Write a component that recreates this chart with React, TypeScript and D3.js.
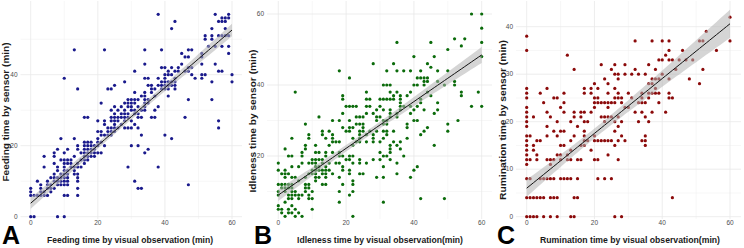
import * as d3 from "d3";

const xTicks = [0, 20, 40, 60];
const xMinor = [10, 30, 50];

// each row: [sensor value, visual observation values seen at that sensor value]
const feedingRows: [number, number[]][] = [
  [0, [0, 1, 8, 10]],
  [6, [0, 1, 2, 3, 4, 5, 10, 11, 14]],
  [7, [0, 3, 4, 6]],
  [8, [0, 3, 5, 6, 7, 14, 32, 33]],
  [9, [3, 5, 6, 8, 9, 10, 11, 47]],
  [10, [2, 5, 7, 8, 9, 10, 11, 14, 31]],
  [11, [6, 7, 8, 9, 10, 11, 14]],
  [12, [7, 9, 10, 11, 13, 14]],
  [13, [8, 10, 11, 13]],
  [14, [4, 8, 10, 12, 13, 14, 15, 29, 38]],
  [15, [7, 10, 11, 12, 14, 16]],
  [16, [9, 10, 11, 12, 15, 16, 17]],
  [17, [4, 7, 13, 16, 17, 18, 19]],
  [18, [7, 10, 15, 16, 17, 18, 19, 20, 21, 34]],
  [19, [8, 11, 14, 16, 17, 18, 19, 35]],
  [20, [14, 16, 17, 18, 19, 20, 22, 30, 32]],
  [21, [16, 17, 18, 20, 21]],
  [22, [9, 13, 20, 42]],
  [23, [21, 22, 23, 24, 33, 40]],
  [24, [20, 21, 23, 24, 25]],
  [25, [23, 24, 25, 26, 28, 29, 30, 32, 56]],
  [26, [22, 25, 27, 31]],
  [27, [20, 22, 24, 25, 26, 28, 30, 56]],
  [28, [16, 17, 24, 25, 26, 27, 28, 29, 32, 33, 36, 37, 46]],
  [29, [25, 27, 28, 29, 31, 32]],
  [30, [24, 26, 28, 30, 31, 33, 34, 37]],
  [31, [25, 27, 29, 30, 32, 34, 38]],
  [32, [21, 28, 29, 30, 31, 34, 35]],
  [33, [29, 30, 31, 32, 34, 35, 47, 54]],
  [34, [33, 34, 37, 41]],
  [35, [31, 34, 36]],
  [36, [14, 23, 24, 36, 37, 39, 40, 41, 43]],
  [37, [25, 35, 36, 38, 39, 40, 41, 42, 43]],
  [38, [28, 39, 40, 41, 42, 43, 54, 60]],
  [39, [10, 34, 35, 38, 40, 43, 49, 51]],
  [40, [40, 41, 42, 48, 51, 52, 60]],
  [41, [31, 41, 43, 44, 46, 47, 56, 57]],
  [42, [39, 40, 42, 44, 47, 48]],
  [43, [34, 45, 51, 55]],
  [45, [46, 47, 51]],
  [46, [45, 51, 59]],
  [47, [13, 22, 34, 39, 47, 48]],
  [48, [53, 55, 57, 59]],
  [50, [52, 54]],
  [51, [52, 54, 56, 57, 58, 59]],
  [53, [42, 54, 58]],
  [55, [43, 56, 57, 58]],
  [56, [57, 58, 59]],
  [57, [38, 55, 59]],
];

const idlenessRows: [number, number[]][] = [
  [3, [2, 5, 7, 22]],
  [4, [1, 3, 4, 6]],
  [5, [0, 1, 3, 5, 10]],
  [6, [0, 4]],
  [7, [2, 18, 31]],
  [8, [3, 4, 6, 9, 10, 42, 49]],
  [9, [0, 3, 4, 5, 6, 7, 9, 21]],
  [10, [0, 2, 4, 5, 8, 10, 18, 22]],
  [11, [1, 2, 3, 4, 8, 9]],
  [12, [0, 1, 2, 3, 4, 8, 9, 13, 14, 19, 22]],
  [13, [6, 11, 22]],
  [14, [2, 4, 5, 8, 11, 12, 14, 18, 29, 31, 39]],
  [15, [1, 2, 3, 9, 10, 11, 13, 14, 16, 21, 24, 25, 35]],
  [16, [0, 2, 10, 11, 12, 13, 14, 15, 19, 21, 40]],
  [17, [4, 6, 11, 12, 14, 19, 31, 41]],
  [18, [0, 7, 9, 10, 11, 13, 15, 17, 18, 22, 24, 26, 35]],
  [19, [10, 11, 12, 13, 20, 21, 24, 28, 30, 33]],
  [20, [3, 4, 7, 14, 18, 19, 21, 22, 31, 32, 37]],
  [21, [7, 11, 12, 14, 16, 18, 30, 33]],
  [22, [2, 8, 33, 36]],
  [23, [8, 11, 15, 22, 33, 35, 46]],
  [24, [16, 17, 18, 23, 24, 26, 28, 30, 34, 36]],
  [25, [4, 9, 14, 16, 22, 24, 28, 31, 38]],
  [26, [9, 13, 16, 24, 26, 28, 32, 42]],
  [27, [13, 15, 20, 21, 24, 25, 27, 29, 31, 32, 34, 43, 50]],
  [28, [19, 21, 22, 25, 38, 44]],
  [29, [8, 23, 24, 25, 31, 32, 38, 50]],
  [30, [16, 18, 21, 29, 31, 32, 40, 41, 53]],
  [31, [12, 23, 24, 25, 29, 30, 33, 35]],
  [32, [19, 26, 28, 33, 35, 39, 46]],
  [33, [29, 31, 33, 36, 40, 43, 47]],
  [34, [20, 21, 22, 23, 26, 27, 30, 36, 37, 39, 41, 57, 60]],
  [35, [36, 42, 47]],
  [36, [19, 26, 27, 30, 31, 32, 33, 34, 36, 42]],
  [37, [19, 34, 36, 38, 45, 54]],
  [38, [5, 26, 33, 35, 39, 44, 54, 59]],
  [40, [31, 32, 33, 40, 41, 43, 49, 52]],
  [41, [43, 44, 47, 52]],
  [42, [21, 41, 42, 43, 44]],
  [44, [18, 32, 35, 37, 39, 42, 47, 50]],
  [45, [45]],
  [46, [28, 34, 44]],
  [48, [40, 46, 60]],
  [50, [50]],
  [51, [54]],
  [52, [35, 45, 60]],
  [53, [52, 55]],
  [56, [60]],
  [60, [57, 60]],
];

const ruminationRows: [number, number[]][] = [
  [0, [0, 1, 2, 3, 5, 7, 9, 13, 14, 26, 28]],
  [4, [0, 1, 2, 3, 4, 5, 7, 8, 9, 14, 15, 43]],
  [8, [0, 1, 4, 5, 6, 7, 8, 10, 11, 12, 13, 15, 21, 23, 25]],
  [11, [0, 7]],
  [12, [0, 1, 3, 6, 7, 8, 10, 12, 13, 15, 16, 20, 21, 27]],
  [13, [0, 3, 9, 10, 12, 24]],
  [14, [0, 2, 13, 19]],
  [15, [0, 2, 10, 11, 16, 17, 26, 35]],
  [16, [0, 3, 4, 13, 17, 18, 20, 21, 22, 23, 24, 25, 27, 29, 34, 35]],
  [17, [0, 1, 6, 9, 14, 17, 20, 28, 35]],
  [18, [8, 10, 11, 17, 26]],
  [19, [0, 6, 15, 27]],
  [20, [0, 9, 13, 17, 18, 23, 26, 28, 33, 36]],
  [21, [0, 2, 7, 14, 16, 22, 23, 24, 25, 27, 35]],
  [22, [0, 6, 11, 14, 16, 17, 19, 32, 34, 37, 41]],
  [23, [0, 10, 20, 24, 29, 30]],
  [24, [5, 11, 20, 21, 22, 23, 24, 25, 26, 28, 33, 34, 35, 39]],
  [25, [0, 8, 9, 20, 21, 26, 27, 28, 31, 34, 36, 42, 43]],
  [26, [0, 4, 11, 17, 19, 24, 27, 30, 34, 36, 37, 38, 39, 42]],
  [27, [0, 6, 17, 19, 21, 26, 38]],
  [28, [20, 24, 36, 37, 51]],
  [29, [23, 27, 37, 38, 39, 42, 48]],
  [30, [26, 27, 29, 31, 33, 35, 40]],
  [31, [14, 25, 32, 38, 44, 52]],
  [32, [22, 26, 29, 36]],
  [33, [39, 40, 42, 43, 45, 47, 49]],
  [34, [12, 41]],
  [35, [0, 42, 46, 56]],
  [37, [32, 37, 40, 42, 51, 52, 60]],
  [38, [0]],
  [39, [53]],
  [42, [60]],
];

// fitted lines
const feedingFit = { intercept: 3.8, slope: 0.813 };
const idlenessFit = { intercept: 9.0, slope: 0.658 };
const ruminationFit = { intercept: 6.0, slope: 0.577 };

const toPoints = (rows: [number, number[]][]) =>
  rows.flatMap(([y, xs]) => xs.map((x) => ({ x, y })));

const FONT = "'Liberation Sans', Arial, sans-serif";

type PanelProps = {
  letter: string;
  color: string;
  rows: [number, number[]][];
  fit: { intercept: number; slope: number };
  yTicks: number[];
  yMinor: number[];
  xPx: [number, number];
  yDomain: [number, number];
  yPx: [number, number];
  box: { x0: number; x1: number; y0: number; y1: number };
  xTitle: string;
  yTitle: string;
  xTitlePos: { x: number; len: number };
  yTitlePos: { x: number; y: number; len: number };
  letterX: number;
};

const Panel = (p: PanelProps) => {
  const pts = toPoints(p.rows);
  const xScale = d3.scaleLinear().domain([0, 60]).range(p.xPx);
  const yScale = d3.scaleLinear().domain(p.yDomain).range(p.yPx);
  const { x0, x1, y0, y1 } = p.box;

  // confidence band of the mean around the fitted line
  const n = pts.length;
  const xbar = d3.mean(pts, (d) => d.x) as number;
  const sxx = d3.sum(pts, (d) => (d.x - xbar) ** 2);
  const sse = d3.sum(pts, (d) => (d.y - (p.fit.intercept + p.fit.slope * d.x)) ** 2);
  const s = Math.sqrt(sse / (n - 2));
  const xs = d3.range(0, 60.5, 1);
  const band = xs.map((x) => {
    const yh = p.fit.intercept + p.fit.slope * x;
    const se = 1.97 * s * Math.sqrt(1 / n + (x - xbar) ** 2 / sxx);
    return { x, lo: yh - se, hi: yh + se, y: yh };
  });
  const area = d3
    .area<{ x: number; lo: number; hi: number }>()
    .x((d) => xScale(d.x))
    .y0((d) => yScale(d.lo))
    .y1((d) => yScale(d.hi));
  const line = d3
    .line<{ x: number; y: number }>()
    .x((d) => xScale(d.x))
    .y((d) => yScale(d.y));

  const inY = (v: number) => yScale(v) >= y0 && yScale(v) <= y1;

  return (
    <g fontFamily={FONT}>
      {/* grid */}
      {xMinor.map((v) => (
        <line key={"xm" + v} x1={xScale(v)} x2={xScale(v)} y1={y0} y2={y1} stroke="#f2f2f2" strokeWidth={0.6} />
      ))}
      {p.yMinor.filter(inY).map((v) => (
        <line key={"ym" + v} x1={x0} x2={x1} y1={yScale(v)} y2={yScale(v)} stroke="#f2f2f2" strokeWidth={0.6} />
      ))}
      {xTicks.map((v) => (
        <line key={"xg" + v} x1={xScale(v)} x2={xScale(v)} y1={y0} y2={y1} stroke="#e8e8e8" strokeWidth={0.8} />
      ))}
      {p.yTicks.filter(inY).map((v) => (
        <line key={"yg" + v} x1={x0} x2={x1} y1={yScale(v)} y2={yScale(v)} stroke="#e8e8e8" strokeWidth={0.8} />
      ))}
      {/* points */}
      {pts.map((d, i) => (
        <circle key={i} cx={xScale(d.x)} cy={yScale(d.y)} r={1.6} fill={p.color} />
      ))}
      {/* fit */}
      <path d={area(band) || ""} fill="#b3b3b3" fillOpacity={0.55} />
      <path d={line(band) || ""} fill="none" stroke="#111" strokeWidth={1} />
      {/* tick labels */}
      {xTicks.map((v) => (
        <text key={"xt" + v} x={xScale(v)} y={225} textAnchor="middle" fontSize={6.5} fill="#4d4d4d">
          {v}
        </text>
      ))}
      {p.yTicks.filter(inY).map((v) => (
        <text key={"yt" + v} x={x0 - 3} y={yScale(v)} dy="0.35em" textAnchor="end" fontSize={6.5} fill="#4d4d4d">
          {v}
        </text>
      ))}
      {/* titles */}
      <text
        x={p.xTitlePos.x}
        y={242.5}
        textAnchor="middle"
        fontSize={9.5}
        fontWeight="bold"
        fill="#1a1a1a"
        textLength={p.xTitlePos.len}
        lengthAdjust="spacingAndGlyphs"
      >
        {p.xTitle}
      </text>
      <text
        transform={`translate(${p.yTitlePos.x},${p.yTitlePos.y}) rotate(-90)`}
        textAnchor="middle"
        fontSize={9.5}
        fontWeight="bold"
        fill="#1a1a1a"
        textLength={p.yTitlePos.len}
        lengthAdjust="spacingAndGlyphs"
      >
        {p.yTitle}
      </text>
      <text x={p.letterX} y={244} fontSize={25} fontWeight="bold" fill="#000">
        {p.letter}
      </text>
    </g>
  );
};

const App = () => {
  return (
    <svg width={744} height={248} style={{ position: "absolute", left: 0, top: 0, background: "#fff" }}>
      <rect width={744} height={248} fill="#fff" />
      <Panel
        letter="A"
        color="#1a1a8c"
        rows={feedingRows}
        fit={feedingFit}
        yTicks={[0, 20, 40]}
        yMinor={[10, 30, 50]}
        xPx={[30.7, 232]}
        yDomain={[0, 40]}
        yPx={[216.7, 74.7]}
        box={{ x0: 20.5, x1: 242, y0: 1, y1: 219 }}
        xTitle="Feeding time by visual observation (min)"
        yTitle="Feeding time by sensor (min)"
        xTitlePos={{ x: 130, len: 166 }}
        yTitlePos={{ x: 9, y: 112, len: 139 }}
        letterX={2}
      />
      <Panel
        letter="B"
        color="#0b6b0b"
        rows={idlenessRows}
        fit={idlenessFit}
        yTicks={[20, 40, 60]}
        yMinor={[10, 30, 50]}
        xPx={[278.3, 481.7]}
        yDomain={[20, 60]}
        yPx={[156, 14]}
        box={{ x0: 267, x1: 492, y0: 1, y1: 219 }}
        xTitle="Idleness time by visual observation(min)"
        yTitle="Idleness time by sensor (min)"
        xTitlePos={{ x: 380, len: 166 }}
        yTitlePos={{ x: 256, y: 121, len: 143 }}
        letterX={254}
      />
      <Panel
        letter="C"
        color="#8b0a0a"
        rows={ruminationRows}
        fit={ruminationFit}
        yTicks={[0, 10, 20, 30, 40]}
        yMinor={[5, 15, 25, 35]}
        xPx={[526.7, 730]}
        yDomain={[0, 40]}
        yPx={[216.7, 26.7]}
        box={{ x0: 516, x1: 741, y0: 1, y1: 219 }}
        xTitle="Rumination time by visual observation(min)"
        yTitle="Rumination time by sensor (min)"
        xTitlePos={{ x: 630, len: 180 }}
        yTitlePos={{ x: 505.5, y: 120, len: 160 }}
        letterX={497}
      />
    </svg>
  );
};

export default App;
